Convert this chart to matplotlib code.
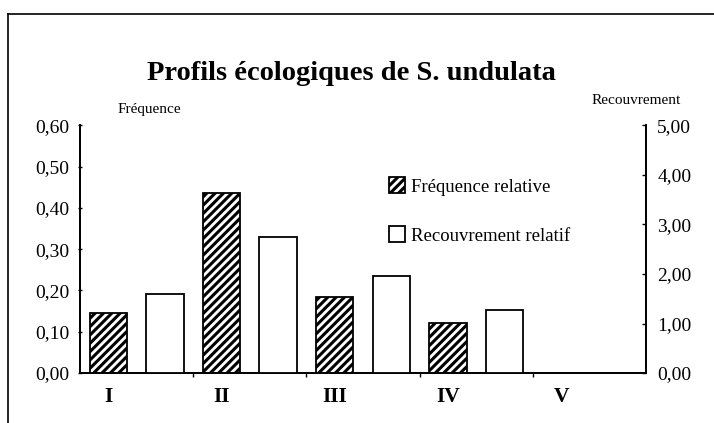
import matplotlib
matplotlib.use("Agg")
import matplotlib.pyplot as plt
from matplotlib.lines import Line2D
from matplotlib.patches import Patch
from matplotlib.ticker import FuncFormatter, FixedLocator

plt.rcParams["font.family"] = ["Liberation Serif", "DejaVu Serif"]
plt.rcParams["hatch.linewidth"] = 2.2

categories = ["I", "II", "III", "IV", "V"]
freq_rel = [0.145, 0.435, 0.185, 0.122, 0.0]   # Fréquence relative (left axis)
recouv_rel = [1.60, 2.75, 1.95, 1.28, 0.0]     # Recouvrement relatif (right axis)

fig = plt.figure(figsize=(7.14, 4.23), dpi=100)
ax = fig.add_axes([0.112, 0.118, 0.793, 0.586])
ax2 = ax.twinx()

x = list(range(len(categories)))
xf = [i + 0.25 for i in x]
xr = [i + 0.75 for i in x]
w = 0.33

ax.bar([p for p, v in zip(xf, freq_rel) if v > 0], [v for v in freq_rel if v > 0],
       width=w, facecolor="white", edgecolor="black", hatch="////", linewidth=1.3, zorder=3)
ax2.bar([p for p, v in zip(xr, recouv_rel) if v > 0], [v for v in recouv_rel if v > 0],
        width=w, facecolor="white", edgecolor="black", linewidth=1.3, zorder=3)

ax.set_xlim(0, len(categories))
ax.set_ylim(0, 0.6)
ax2.set_ylim(0, 5)
ax.set_yticks([0, 0.1, 0.2, 0.3, 0.4, 0.5, 0.6])
ax2.set_yticks([0, 1, 2, 3, 4, 5])
comma = FuncFormatter(lambda v, pos: f"{v:.2f}".replace(".", ","))
ax.yaxis.set_major_formatter(comma)
ax2.yaxis.set_major_formatter(comma)

ax.set_xticks(xf)
ax.set_xticklabels(categories, fontsize=15.5, fontweight="bold")
ax.xaxis.set_minor_locator(FixedLocator(x[1:]))
ax.tick_params(axis="x", which="major", length=0, pad=10)
ax.tick_params(axis="x", which="minor", length=3, direction="out", width=1)
ax.tick_params(axis="y", length=3, direction="inout", width=1, labelsize=14, pad=6)
ax2.tick_params(axis="y", length=3, direction="in", width=1, labelsize=14, pad=8)

for a in (ax, ax2):
    a.spines["top"].set_visible(False)
    for s in ("left", "right", "bottom"):
        a.spines[s].set_linewidth(1.3)
    a.set_facecolor("none")

fig.text(0.492, 0.826, "Profils écologiques de S. undulata", ha="center", va="center",
         fontsize=20.5, fontweight="bold")
fig.text(0.165, 0.74, "Fréquence", ha="left", va="center", fontsize=11)
fig.text(0.953, 0.763, "Recouvrement", ha="right", va="center", fontsize=11)

handles = [Patch(facecolor="white", edgecolor="black", hatch="////", linewidth=1.3),
           Patch(facecolor="white", edgecolor="black", linewidth=1.3)]
ax.legend(handles, ["Fréquence relative", "Recouvrement relatif"],
          loc="upper left", bbox_to_anchor=(0.545, 0.79), frameon=False,
          fontsize=13.5, handlelength=0.9, handleheight=0.9, handletextpad=0.3,
          labelspacing=1.65, borderpad=0, borderaxespad=0)

# page frame
fig.add_artist(Line2D([8 / 714, 1], [1 - 14 / 423, 1 - 14 / 423], color="black",
                      lw=1.2, transform=fig.transFigure))
fig.add_artist(Line2D([8 / 714, 8 / 714], [0, 1 - 14 / 423], color="black",
                      lw=1.2, transform=fig.transFigure))

fig.savefig("out.png", dpi=100)
